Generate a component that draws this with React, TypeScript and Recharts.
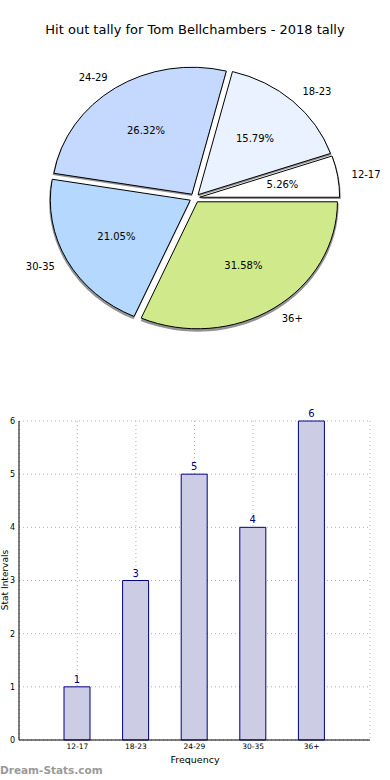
import { PieChart, Pie, Cell, Sector, BarChart, Bar, XAxis, YAxis, CartesianGrid, LabelList } from 'recharts'

const INTERVALS = ['12-17', '18-23', '24-29', '30-35', '36+']
const TALLY = [1, 3, 5, 4, 6]
const SLICE_COLORS = ['#FFFFFF', '#EAF1FF', '#C5D9FF', '#B5D8FF', '#D0EA8B']
const Y_TICKS = [0, 1, 2, 3, 4, 5, 6]

const FONT = '"DejaVu Sans", Verdana, sans-serif'
const EXPLODE = 5
const Y_SCALE = 0.907 // pie is drawn slightly squashed, like the original

const data = INTERVALS.map((name, i) => ({ name, value: TALLY[i] }))

const squash = (cy: number) => `translate(0 ${cy}) scale(1 ${Y_SCALE}) translate(0 ${-cy})`

function ExplodedSlice(props: any) {
    const { cx, cy, midAngle, innerRadius, outerRadius, startAngle, endAngle, fill } = props
    const rad = (midAngle * Math.PI) / 180
    const ox = cx + EXPLODE * Math.cos(rad)
    const oy = cy - EXPLODE * Math.sin(rad)
    return (
        <g transform={squash(cy)}>
            {/* shadow */}
            <Sector
                cx={ox} cy={oy + 2}
                innerRadius={innerRadius} outerRadius={outerRadius + 1.2}
                startAngle={startAngle} endAngle={endAngle}
                fill="#6E6E6E" fillOpacity={0.75} stroke="none"
            />
            <Sector
                cx={ox} cy={oy}
                innerRadius={innerRadius} outerRadius={outerRadius}
                startAngle={startAngle} endAngle={endAngle}
                fill={fill} stroke="#000" strokeWidth={1}
                vectorEffect="non-scaling-stroke"
            />
        </g>
    )
}

function SliceLabel(props: any) {
    const { cx, cy, midAngle, outerRadius, percent, name } = props
    const rad = (midAngle * Math.PI) / 180
    const c = Math.cos(rad)
    const s = Math.sin(rad)
    const rName = outerRadius * 1.1 + EXPLODE
    const rPct = outerRadius * 0.6 + EXPLODE
    return (
        <g fontFamily={FONT} fontSize={10} fill="#000">
            <text
                x={cx + rName * c} y={cy - rName * s * Y_SCALE}
                textAnchor={c < 0 ? 'end' : 'start'} dominantBaseline="central"
            >
                {name}
            </text>
            <text
                x={cx + rPct * c} y={cy - rPct * s * Y_SCALE}
                textAnchor="middle" dominantBaseline="central"
            >
                {`${(percent * 100).toFixed(2)}%`}
            </text>
        </g>
    )
}

export default function App() {
    return (
        <div style={{ position: 'relative', width: 390, height: 780, background: '#fff', fontFamily: FONT, overflow: 'hidden' }}>
            <style>{'body{margin:0}'}</style>

            <div style={{ position: 'absolute', top: 22, left: 0, width: 390, textAlign: 'center', fontSize: 13, color: '#000', lineHeight: '16px' }}>
                Hit out tally for Tom Bellchambers - 2018 tally
            </div>

            <div style={{ position: 'absolute', top: 0, left: 0 }}>
                <PieChart width={390} height={360} margin={{ top: 0, right: 0, bottom: 0, left: 0 }}>
                    <Pie
                        data={data}
                        dataKey="value"
                        nameKey="name"
                        cx={194.7}
                        cy={198}
                        outerRadius={140}
                        startAngle={0}
                        endAngle={360}
                        stroke="#000"
                        shape={ExplodedSlice}
                        label={SliceLabel}
                        labelLine={false}
                        isAnimationActive={false}
                    >
                        {data.map((d, i) => (
                            <Cell key={d.name} fill={SLICE_COLORS[i]} />
                        ))}
                    </Pie>
                </PieChart>
            </div>

            <div style={{ position: 'absolute', top: 400, left: 0 }}>
                <BarChart width={390} height={380} data={data} margin={{ top: 21, right: 20, left: 0, bottom: 0 }}>
                    <CartesianGrid stroke="#B0B0B0" strokeDasharray="1 3" />
                    <XAxis
                        dataKey="name"
                        interval={0}
                        padding={{ left: 29, right: 29 }}
                        height={40}
                        tickLine={false}
                        tickSize={2}
                        tickMargin={2}
                        axisLine={{ stroke: '#000' }}
                        tick={{ fontSize: 7.5, fill: '#000', fontFamily: FONT }}
                    />
                    <XAxis
                        xAxisId="top"
                        orientation="top"
                        dataKey="name"
                        padding={{ left: 29, right: 29 }}
                        height={0}
                        tick={false}
                        tickLine={false}
                        axisLine={{ stroke: '#000' }}
                    />
                    <YAxis
                        domain={[0, 6]}
                        ticks={Y_TICKS}
                        width={19}
                        tickLine={false}
                        tickSize={2}
                        tickMargin={2}
                        axisLine={{ stroke: '#000' }}
                        tick={{ fontSize: 8, fill: '#000', fontFamily: FONT }}
                    />
                    <YAxis
                        yAxisId="right"
                        orientation="right"
                        domain={[0, 6]}
                        width={0}
                        tick={false}
                        tickLine={false}
                        axisLine={{ stroke: '#000' }}
                    />
                    <Bar dataKey="value" barSize={26} fill="#CCCCE5" stroke="#000080" strokeWidth={1} isAnimationActive={false}>
                        <LabelList dataKey="value" position="top" offset={4} fill="#000080" fontSize={10} fontFamily={FONT} />
                    </Bar>
                </BarChart>
            </div>

            <div style={{ position: 'absolute', left: 0, top: 754, width: 390, textAlign: 'center', fontSize: 9.5, color: '#000', lineHeight: '12px' }}>
                Frequency
            </div>
            <div
                style={{
                    position: 'absolute', left: 4.5, top: 580, fontSize: 9, color: '#000', lineHeight: '9px',
                    whiteSpace: 'nowrap', transform: 'translate(-50%, -50%) rotate(-90deg)',
                }}
            >
                Stat Intervals
            </div>
            <div style={{ position: 'absolute', left: 0, top: 763, fontSize: 10.5, fontWeight: 'bold', color: '#9A9A9A', lineHeight: '14px' }}>
                Dream-Stats.com
            </div>
        </div>
    )
}
